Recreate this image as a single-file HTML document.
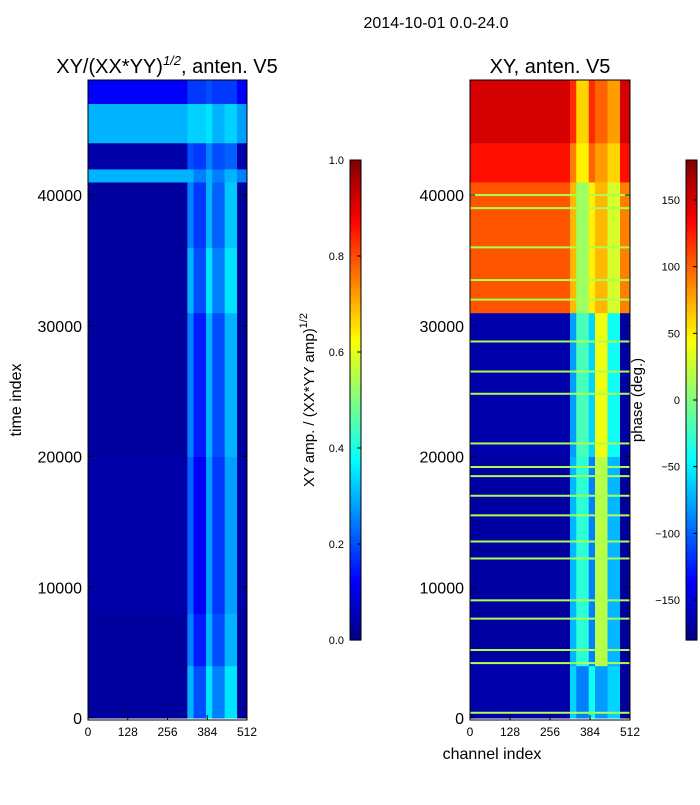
<!DOCTYPE html>
<html><head><meta charset="utf-8">
<style>
body{margin:0;background:#fff;}
svg text{font-family:"Liberation Sans","DejaVu Sans",sans-serif;fill:#000;}
</style></head>
<body>
<svg id="fig" width="700" height="800" xmlns="http://www.w3.org/2000/svg">
<rect width="700" height="800" fill="#fff"/>
<text x="436" y="28" font-size="16" text-anchor="middle">2014-10-01 0.0-24.0</text>
<text x="167" y="73" font-size="20" text-anchor="middle">XY/(XX*YY)<tspan font-style="italic" font-size="13" dy="-8">1/2</tspan><tspan dy="8">, anten. V5</tspan></text>
<text x="550" y="73" font-size="20" text-anchor="middle">XY, anten. V5</text>
<text transform="translate(21,400) rotate(-90)" font-size="16" text-anchor="middle">time index</text>
<text x="492" y="759" font-size="16" text-anchor="middle">channel index</text>
<text transform="translate(314,400) rotate(-90)" font-size="15" text-anchor="middle">XY amp. / (XX*YY amp)<tspan font-size="11" dy="-7">1/2</tspan></text>
<text transform="translate(642,400) rotate(-90)" font-size="15" text-anchor="middle">phase (deg.)</text>
<g id="left"></g>
<g id="right"></g>
<g id="cb1"></g>
<g id="cb2"></g>
</svg>
<script>
const chanEdges=[0,320,340,380,400,440,480,512];
const timeEdges=[0,4000,8000,20000,31000,36000,41000,42000,44000,47000,48800];
const ampValues=[
[0.03,0.3,0.2,0.35,0.25,0.35,0.03],
[0.03,0.25,0.15,0.3,0.2,0.3,0.03],
[0.04,0.22,0.12,0.28,0.18,0.28,0.04],
[0.03,0.25,0.15,0.3,0.2,0.3,0.03],
[0.03,0.3,0.2,0.35,0.25,0.35,0.03],
[0.03,0.25,0.18,0.3,0.22,0.32,0.03],
[0.3,0.3,0.25,0.3,0.25,0.3,0.25],
[0.04,0.2,0.18,0.25,0.2,0.22,0.04],
[0.3,0.33,0.33,0.35,0.3,0.33,0.28],
[0.12,0.18,0.18,0.2,0.18,0.18,0.12]];
const phaseValues=[
[-165,-60,-90,-40,-80,-60,-170],
[-168,-70,-30,-90,20,-70,-172],
[-168,-70,-30,-90,20,-70,-172],
[-165,-80,-20,-60,40,-40,-168],
[105,70,10,50,70,30,90],
[105,70,10,50,70,30,90],
[130,90,50,100,80,60,130],
[130,90,50,100,80,60,130],
[150,120,60,120,100,80,150],
[150,120,60,120,100,80,150]];
const phaseLineTimes=[400,4200,5200,7600,9000,12200,13500,15500,17000,18500,19200,21000,24800,26500,28800,32000,33500,36000,39000,40000];
const phaseLineValue=15;
const yTicks=[0,10000,20000,30000,40000];
const xTicks=[0,128,256,384,512];
const ampTicks=[0,0.2,0.4,0.6,0.8,1.0];
const phaseTicks=[-150,-100,-50,0,50,100,150];

const NS="http://www.w3.org/2000/svg";
function mk(tag,attrs,parent){const e=document.createElementNS(NS,tag);for(const k in attrs)e.setAttribute(k,attrs[k]);parent.appendChild(e);return e;}
function jet(v){v=Math.max(0,Math.min(1,v));
 const st=[[0,0,0,128],[0.125,0,0,255],[0.375,0,255,255],[0.5,128,255,128],[0.625,255,255,0],[0.875,255,0,0],[1,128,0,0]];
 for(let i=1;i<st.length;i++){if(v<=st[i][0]){const a=st[i-1],b=st[i],t=(v-a[0])/(b[0]-a[0]);
 return `rgb(${Math.round(a[1]+t*(b[1]-a[1]))},${Math.round(a[2]+t*(b[2]-a[2]))},${Math.round(a[3]+t*(b[3]-a[3]))})`;}}
 return "rgb(128,0,0)";}
const plotTop=80,plotBot=718,tMax=48800;
function yS(t){return plotBot-(t/tMax)*(plotBot-plotTop);}
function panel(id,x0,x1,vals,norm,lines){
 const g=document.getElementById(id);
 const xS=c=>x0+c/512*(x1-x0);
 for(let r=0;r<vals.length;r++)for(let c=0;c<vals[r].length;c++){
  const y1=yS(timeEdges[r+1]),y2=yS(timeEdges[r]);
  const el=mk("rect",{x:xS(chanEdges[c]),y:y1,width:xS(chanEdges[c+1])-xS(chanEdges[c])+0.5,height:y2-y1+0.5,fill:jet(norm(vals[r][c]))},g);
  
  
 }
 if(lines){for(const t of lines){const el=mk("rect",{x:x0,y:yS(t)-1,width:x1-x0,height:2,fill:jet(norm(phaseLineValue))},g);
  
  }}
 mk("rect",{x:x0,y:plotTop,width:x1-x0,height:plotBot-plotTop+2,fill:"none",stroke:"#000","stroke-width":1},g);
 for(const t of yTicks){const y=yS(t);mk("line",{x1:x0,x2:x0+5,y1:y,y2:y,stroke:"#000"},g);mk("line",{x1:x1,x2:x1-5,y1:y,y2:y,stroke:"#000"},g);
  const tx=mk("text",{x:x0-6,y:y+6,"font-size":16,"text-anchor":"end"},g);tx.textContent=t;
  
  }
 for(const c of xTicks){const x=xS(c);mk("line",{x1:x,x2:x,y1:plotBot+2,y2:plotBot-3,stroke:"#000"},g);
  const tx=mk("text",{x:x,y:plotBot+18,"font-size":12,"text-anchor":"middle"},g);tx.textContent=c;
  
  }
}
panel("left",88,247,ampValues,v=>v,null);
panel("right",470,630,phaseValues,v=>(v+180)/360,phaseLineTimes);
function colorbar(id,x,w,vmin,vmax,ticks,fmt){
 const g=document.getElementById(id);const y0=160,y1=640,n=120;
 for(let i=0;i<n;i++){mk("rect",{x:x,y:y1-(i+1)*(y1-y0)/n,width:w,height:(y1-y0)/n+0.6,fill:jet((i+0.5)/n)},g);}
 mk("rect",{x:x,y:y0,width:w,height:y1-y0,fill:"none",stroke:"#000"},g);
 for(const t of ticks){const y=y1-(t-vmin)/(vmax-vmin)*(y1-y0);
  mk("line",{x1:x+w,x2:x+w-4,y1:y,y2:y,stroke:"#000"},g);
  const tx=mk("text",{x:x-6,y:y+4,"font-size":11,"text-anchor":"end"},g);tx.textContent=fmt(t);
  
  }
}
colorbar("cb1",350,11,0,1,ampTicks,t=>t.toFixed(1));
colorbar("cb2",686,11,-180,180,phaseTicks,t=>t<0?"\u2212"+(-t):String(t));
</script>
</body></html>
